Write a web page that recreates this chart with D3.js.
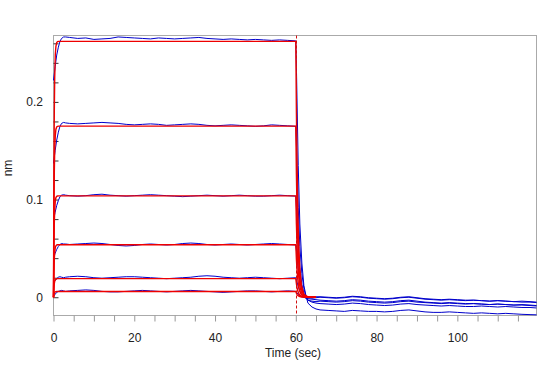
<!DOCTYPE html>
<html>
<head>
<meta charset="utf-8">
<script src="https://cdn.jsdelivr.net/npm/d3@7"></script>
<style>
  body { margin: 0; background: #fff; }
  #chart text { font-family: Arial, "Liberation Sans", sans-serif; }
</style>
</head>
<body>
<div id="chart"></div>
<script>
// measured sensorgram (blue) – association 0-60 s, dissociation 60-120 s
const assocTime = [0, 0.4, 0.8, 1.2, 1.6, 2, 2.5, 3, 4, 6, 8, 10, 12, 14, 16, 18, 20, 22, 24, 26, 28, 30,
  32, 34, 36, 38, 40, 42, 44, 46, 48, 50, 52, 54, 56, 58, 60];
const dissocTime = [60.2, 60.6, 61, 61.5, 62, 62.5, 63, 64, 65, 66, 68, 70, 72, 74, 76, 78, 80, 82, 84, 86,
  88, 90, 92, 94, 96, 98, 100, 102, 104, 106, 108, 110, 112, 114, 116, 118, 119.6];

const assocData = [
  [0.222, 0.236, 0.248, 0.256, 0.262, 0.265, 0.2665, 0.2665, 0.266, 0.265, 0.2655, 0.264, 0.2645, 0.265, 0.2665,
    0.266, 0.2655, 0.265, 0.2645, 0.2655, 0.265, 0.2645, 0.265, 0.2655, 0.266, 0.265, 0.2645, 0.264, 0.2645,
    0.264, 0.2635, 0.264, 0.2635, 0.263, 0.2635, 0.263, 0.2625],
  [0.137, 0.150, 0.161, 0.169, 0.175, 0.178, 0.179, 0.1785, 0.178, 0.1775, 0.178, 0.1785, 0.179, 0.1785, 0.178,
    0.177, 0.1765, 0.177, 0.1775, 0.177, 0.176, 0.1765, 0.177, 0.1775, 0.177, 0.176, 0.1755, 0.176, 0.1765,
    0.176, 0.1755, 0.175, 0.1755, 0.1765, 0.176, 0.1755, 0.175],
  [0.079, 0.087, 0.094, 0.099, 0.103, 0.1045, 0.105, 0.1045, 0.104, 0.1035, 0.104, 0.105, 0.1055, 0.1045, 0.104,
    0.1035, 0.104, 0.1045, 0.105, 0.1045, 0.104, 0.1035, 0.103, 0.1035, 0.104, 0.1045, 0.104, 0.1035, 0.104,
    0.1045, 0.104, 0.1035, 0.1035, 0.104, 0.1045, 0.104, 0.1035],
  [0.040, 0.045, 0.049, 0.052, 0.054, 0.055, 0.0545, 0.0545, 0.054, 0.0545, 0.055, 0.0555, 0.055, 0.054, 0.053,
    0.0525, 0.053, 0.054, 0.0545, 0.054, 0.0535, 0.054, 0.055, 0.0555, 0.055, 0.054, 0.0535, 0.054, 0.0545,
    0.054, 0.0535, 0.054, 0.0545, 0.055, 0.0545, 0.054, 0.0535],
  [0.015, 0.017, 0.019, 0.0205, 0.021, 0.0205, 0.020, 0.0205, 0.021, 0.0215, 0.021, 0.020, 0.0195, 0.020, 0.0205,
    0.021, 0.021, 0.0205, 0.020, 0.0195, 0.019, 0.0195, 0.020, 0.0205, 0.0215, 0.022, 0.0215, 0.0205, 0.020,
    0.0195, 0.020, 0.0205, 0.020, 0.0195, 0.019, 0.0195, 0.020],
  [0.001, 0.003, 0.005, 0.006, 0.0065, 0.007, 0.0065, 0.006, 0.0065, 0.007, 0.0075, 0.007, 0.006, 0.0055, 0.0055,
    0.006, 0.0065, 0.007, 0.0065, 0.006, 0.0055, 0.006, 0.0065, 0.007, 0.0065, 0.006, 0.0055, 0.005, 0.0055,
    0.006, 0.0065, 0.0065, 0.006, 0.0055, 0.006, 0.0065, 0.006]
];

const dissocData = [
  [0.225, 0.135, 0.075, 0.035, 0.012, 0.002, -0.006, -0.010, -0.012, -0.013, -0.0135, -0.014, -0.0145, -0.0135,
    -0.014, -0.0145, -0.0145, -0.015, -0.0145, -0.0135, -0.013, -0.014, -0.015, -0.0155, -0.0155, -0.015,
    -0.0155, -0.016, -0.0165, -0.016, -0.0165, -0.017, -0.0165, -0.017, -0.0175, -0.0178, -0.018],
  [0.150, 0.092, 0.052, 0.024, 0.009, 0.001, -0.003, -0.005, -0.006, -0.0065, -0.007, -0.0075, -0.007, -0.006,
    -0.0065, -0.0075, -0.008, -0.0085, -0.008, -0.007, -0.0065, -0.0075, -0.008, -0.0085, -0.009, -0.0085,
    -0.009, -0.0095, -0.0095, -0.009, -0.0095, -0.010, -0.0095, -0.010, -0.0105, -0.0105, -0.011],
  [0.088, 0.054, 0.030, 0.013, 0.004, -0.001, -0.003, -0.004, -0.0045, -0.004, -0.0045, -0.005, -0.0045, -0.0035,
    -0.004, -0.005, -0.0055, -0.006, -0.0055, -0.0045, -0.004, -0.005, -0.0055, -0.006, -0.0065, -0.006,
    -0.0065, -0.007, -0.0065, -0.007, -0.0075, -0.007, -0.0075, -0.008, -0.0075, -0.008, -0.0085],
  [0.046, 0.029, 0.017, 0.008, 0.003, 0.0005, -0.0005, -0.001, -0.0005, 0.0, -0.0005, -0.001, -0.0005, 0.0005,
    0.0, -0.001, -0.0015, -0.002, -0.0015, -0.0005, 0.0, -0.001, -0.002, -0.0025, -0.003, -0.0025,
    -0.003, -0.0035, -0.003, -0.0035, -0.004, -0.0035, -0.004, -0.0045, -0.004, -0.0045, -0.005],
  [0.017, 0.011, 0.006, 0.002, 0.0, -0.001, -0.0015, -0.002, -0.0025, -0.003, -0.0035, -0.004, -0.0035, -0.0025,
    -0.003, -0.004, -0.0045, -0.005, -0.0045, -0.0035, -0.003, -0.004, -0.005, -0.0055, -0.006, -0.0055,
    -0.006, -0.0065, -0.0065, -0.007, -0.0075, -0.007, -0.0075, -0.008, -0.008, -0.0085, -0.009],
  [0.005, 0.003, 0.0015, 0.0005, 0.0, -0.0005, -0.0005, 0.0, 0.0005, 0.0005, 0.0, -0.0005, 0.0, 0.001,
    0.0005, -0.0005, -0.001, -0.0015, -0.001, 0.0, 0.0005, -0.0005, -0.0015, -0.002, -0.0025, -0.002,
    -0.0025, -0.003, -0.003, -0.0035, -0.004, -0.0035, -0.004, -0.0045, -0.005, -0.005, -0.0055]
];

// 1:1 fit curves (red)
const fitAssocTime = [0, 0.1, 0.2, 0.3, 0.45, 0.6, 0.8, 1.0, 1.3, 60];
const fitDissocTime = [60, 60.15, 60.3, 60.5, 60.75, 61, 61.4, 62, 63, 64, 65];

const fitAssoc = [
  [0, 0.126, 0.191, 0.225, 0.249, 0.257, 0.2607, 0.2617, 0.262, 0.262],
  [0, 0.084, 0.128, 0.151, 0.166, 0.172, 0.1743, 0.175, 0.1752, 0.1752],
  [0, 0.050, 0.076, 0.089, 0.099, 0.102, 0.1033, 0.1037, 0.1038, 0.1038],
  [0, 0.026, 0.039, 0.046, 0.051, 0.0527, 0.0535, 0.0537, 0.0538, 0.0538],
  [0, 0.009, 0.014, 0.0164, 0.018, 0.0187, 0.019, 0.0191, 0.0191, 0.0191],
  [0, 0.0028, 0.0042, 0.005, 0.0055, 0.0057, 0.0058, 0.0058, 0.0058, 0.0058]
];
const fitDissoc = [
  [0.262, 0.189, 0.136, 0.086, 0.050, 0.029, 0.012, 0.003, 0.0003, 0, 0],
  [0.1752, 0.126, 0.091, 0.058, 0.033, 0.019, 0.008, 0.002, 0.0002, 0, 0],
  [0.1038, 0.075, 0.054, 0.034, 0.020, 0.011, 0.0048, 0.0012, 0.0001, 0, 0],
  [0.0538, 0.039, 0.028, 0.018, 0.010, 0.006, 0.0025, 0.0006, 0, 0, 0],
  [0.0191, 0.0138, 0.0099, 0.0063, 0.0036, 0.0021, 0.0009, 0.0002, 0, 0, 0],
  [0.0058, 0.0042, 0.003, 0.0019, 0.0011, 0.0006, 0.0003, 0.0001, 0, 0, 0]
];

const stepTime = 60;
const xTicks = d3.range(0, 120, 5);
const yTicks = d3.range(0, 14).map((i) => i * 0.02);

const w = 547, h = 366;
const m = { left: 53.5, right: 536.5, top: 35.5, bottom: 315.5 };

const svg = d3.select("#chart").append("svg")
  .attr("width", w)
  .attr("height", h)
  .style("background", "#fff");

const x = d3.scaleLinear().domain([0, 119.6]).range([m.left, m.right]);
const y = d3.scaleLinear().domain([-0.0187, 0.268]).range([m.bottom, m.top]);

//frame
svg.append("rect")
  .attr("x", m.left).attr("y", m.top)
  .attr("width", m.right - m.left).attr("height", m.bottom - m.top)
  .attr("fill", "none").attr("stroke", "#aaa");

const xAxis = svg.append("g")
  .attr("transform", `translate(0,${m.bottom})`)
  .call(d3.axisBottom(x).tickValues(xTicks).tickSize(6).tickPadding(11.5)
    .tickFormat((d) => (d % 20 === 0 ? d : "")));
xAxis.select(".domain").remove();
xAxis.selectAll("line").attr("stroke", "#999");
xAxis.selectAll("text").attr("font-size", 12).attr("fill", "#222");

const yAxis = svg.append("g")
  .attr("transform", `translate(${m.left},0)`)
  .call(d3.axisLeft(y).tickValues(yTicks).tickSize(-5).tickPadding(10.5)
    .tickFormat((d) => {
      const k = Math.round(d * 50);
      return k % 5 === 0 ? d3.format("")(k / 50) : "";
    }));
yAxis.select(".domain").remove();
yAxis.selectAll("line").attr("stroke", "#333");
yAxis.selectAll("text").attr("font-size", 12).attr("fill", "#222");

svg.append("text")
  .attr("x", 293).attr("y", 357)
  .attr("text-anchor", "middle")
  .attr("font-size", 12).attr("fill", "#222")
  .text("Time (sec)");

svg.append("text")
  .attr("transform", "translate(12,168) rotate(-90)")
  .attr("text-anchor", "middle")
  .attr("font-size", 12).attr("fill", "#222")
  .text("nm");

const line = d3.line().x((d) => x(d[0])).y((d) => y(d[1]));

const g = svg.append("g");

// raw data
assocData.forEach((vals, i) => {
  const pts = assocTime.map((t, j) => [t, vals[j]])
    .concat(dissocTime.map((t, j) => [t, dissocData[i][j]]));
  g.append("path")
    .attr("d", line(pts))
    .attr("fill", "none")
    .attr("stroke", "#0000cc")
    .attr("stroke-width", 1);
});

// fits
fitAssoc.forEach((vals, i) => {
  const pts = fitAssocTime.map((t, j) => [t, vals[j]])
    .concat(fitDissocTime.map((t, j) => [t, fitDissoc[i][j]]));
  g.append("path")
    .attr("d", line(pts))
    .attr("fill", "none")
    .attr("stroke", "#ee0000")
    .attr("stroke-width", 1.4);
});

// step boundary
const sx = Math.round(x(stepTime)) + 0.5;
svg.append("line")
  .attr("x1", sx).attr("x2", sx)
  .attr("y1", m.top).attr("y2", m.bottom)
  .attr("stroke", "#d01010")
  .attr("stroke-dasharray", "3,2")
  .attr("stroke-width", 1);
</script>
</body>
</html>
